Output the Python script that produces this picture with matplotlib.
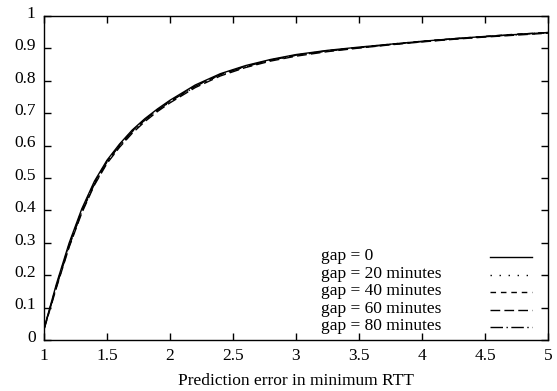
import matplotlib
matplotlib.use("Agg")
import matplotlib.pyplot as plt
import matplotlib.transforms as mtransforms

plt.rcParams['font.family'] = ['Liberation Serif', 'DejaVu Serif']
plt.rcParams['font.size'] = 12.5

# CDF of prediction error
x = [1.0, 1.1, 1.2, 1.3, 1.4, 1.5, 1.6, 1.7, 1.8, 1.9, 2.0, 2.2, 2.4, 2.6,
     2.8, 3.0, 3.25, 3.5, 3.75, 4.0, 4.25, 4.5, 4.75, 5.0]
gap0 = [0.035, 0.175, 0.300, 0.405, 0.490, 0.555, 0.605, 0.648, 0.683, 0.713, 0.740, 0.787,
        0.822, 0.847, 0.866, 0.881, 0.894, 0.904, 0.913, 0.922, 0.930, 0.937, 0.943, 0.949]
gap20 = [0.033, 0.168, 0.292, 0.398, 0.482, 0.548, 0.598, 0.642, 0.678, 0.708, 0.735, 0.782,
         0.818, 0.843, 0.863, 0.878, 0.892, 0.903, 0.912, 0.921, 0.929, 0.936, 0.942, 0.948]
gap40 = [0.034, 0.170, 0.295, 0.400, 0.486, 0.552, 0.602, 0.645, 0.680, 0.710, 0.737, 0.784,
         0.820, 0.845, 0.864, 0.879, 0.893, 0.903, 0.913, 0.922, 0.930, 0.937, 0.944, 0.949]
gap60 = [0.032, 0.163, 0.287, 0.392, 0.478, 0.545, 0.595, 0.638, 0.674, 0.705, 0.732, 0.779,
         0.815, 0.841, 0.861, 0.876, 0.890, 0.901, 0.911, 0.920, 0.928, 0.935, 0.941, 0.947]
gap80 = [0.034, 0.166, 0.290, 0.396, 0.481, 0.550, 0.600, 0.643, 0.679, 0.709, 0.736, 0.783,
         0.819, 0.844, 0.864, 0.879, 0.892, 0.902, 0.912, 0.921, 0.929, 0.936, 0.943, 0.949]

labels = ["gap = 0", "gap = 20 minutes", "gap = 40 minutes", "gap = 60 minutes", "gap = 80 minutes"]
series = [gap0, gap20, gap40, gap60, gap80]
styles = ['-', (0, (1, 5.5)), (0, (4, 3.5)), (0, (7, 3)), (0, (9, 2.5, 1, 2.5))]

fig = plt.figure(figsize=(5.57, 3.91), dpi=100)
fig.subplots_adjust(left=44/557, right=548/557, top=1-16/391, bottom=1-340/391)
ax = fig.add_subplot(111)

for y, lab, ls in zip(series, labels, styles):
    ax.plot(x, y, color='black', linestyle=ls, linewidth=1.0, label=lab)

ax.set_xlim(1, 5)
ax.set_ylim(0, 1)
ax.set_xticks([1, 1.5, 2, 2.5, 3, 3.5, 4, 4.5, 5])
ax.set_xticklabels(["1", "1.5", "2", "2.5", "3", "3.5", "4", "4.5", "5"])
ax.set_yticks([i / 10 for i in range(11)])
ax.set_yticklabels(["0", "0.1", "0.2", "0.3", "0.4", "0.5", "0.6", "0.7", "0.8", "0.9", "1"])
ax.tick_params(direction='in', top=True, right=True, length=5, width=1, pad=6)
# gnuplot puts the y labels a little above their ticks
shift = mtransforms.ScaledTranslation(0, 3/72, fig.dpi_scale_trans)
for lbl in ax.get_yticklabels():
    lbl.set_transform(lbl.get_transform() + shift)
for sp in ax.spines.values():
    sp.set_linewidth(1.0)
ax.set_xlabel("Prediction error in minimum RTT", labelpad=6)

# gnuplot-style key: labels left-aligned, samples on the right
key_top = 0.256
key_step = 0.054
for i, (lab, ls) in enumerate(zip(labels, styles)):
    yk = key_top - i * key_step
    ax.text(0.55, yk + 0.009, lab, transform=ax.transAxes, ha='left', va='center_baseline')
    ax.plot([0.885, 0.968], [yk, yk], transform=ax.transAxes, color='black',
            linestyle=ls, linewidth=1.0)

plt.savefig("out.png", dpi=100)
